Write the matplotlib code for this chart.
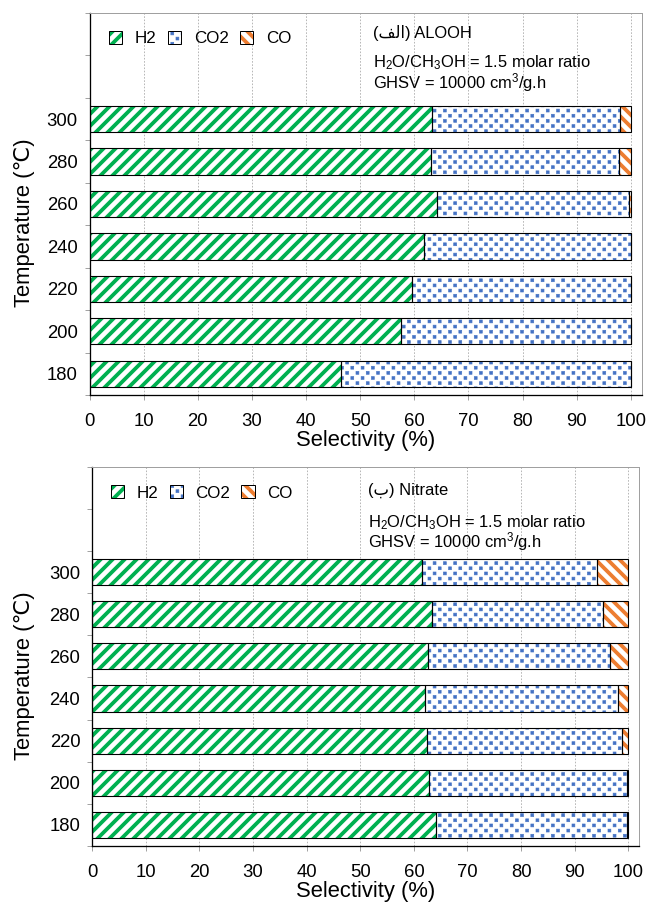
import numpy as np
import matplotlib
matplotlib.use('Agg')
import matplotlib.pyplot as plt
import matplotlib.hatch as mhatch
from matplotlib.path import Path
from matplotlib.patches import Patch
from matplotlib.legend_handler import HandlerTuple

# ---------------- data ----------------
temps = [180, 200, 220, 240, 260, 280, 300]
species = ['H2', 'CO2', 'CO']

alooh_h2 = [46.5, 57.5, 59.6, 61.8, 64.1, 63.0, 63.3]
alooh_co2 = [53.5, 42.5, 40.4, 38.2, 35.6, 34.8, 34.7]
alooh_co = [0.0, 0.0, 0.0, 0.0, 0.3, 2.2, 2.0]

nitrate_h2 = [64.2, 62.8, 62.5, 62.1, 62.7, 63.3, 61.5]
nitrate_co2 = [35.6, 37.0, 36.4, 35.9, 33.9, 31.9, 32.6]
nitrate_co = [0.2, 0.2, 1.1, 2.0, 3.4, 4.8, 5.9]

panel_titles = ['(\uFED2\uFEDF\uFE8D) ALOOH', '(\u0628) Nitrate']
cond_line1 = 'H$_2$O/CH$_3$OH = 1.5 molar ratio'
cond_line2 = 'GHSV = 10000 cm$^3$/g.h'
xticks = list(range(0, 101, 10))

# ---------------- style ----------------
colors = ['#00B050', '#4472C4', '#ED7D31']
hatches = ['//', '..', '\\\\']
hatch_lws = [3.8, 0.6, 3.8]

plt.rcParams['font.family'] = ['Liberation Sans', 'DejaVu Sans']
plt.rcParams['mathtext.fontset'] = 'custom'
plt.rcParams['mathtext.rm'] = 'Liberation Sans'
plt.rcParams['mathtext.it'] = 'Liberation Sans:italic'
plt.rcParams['mathtext.bf'] = 'Liberation Sans:bold'


class SquareDots(mhatch.HatchPatternBase):
    """Staggered small filled squares (replaces the '.' hatch)."""

    def __init__(self, hatch, density):
        k = hatch.count('.')
        self.nrows = 7 * k
        self.ncols = max(self.nrows // 2, 1)
        self.side = 0.040
        self.num_vertices = self.nrows * self.ncols * 5 if k else 0

    def set_vertices_and_codes(self, vertices, codes):
        sq = (np.array([[0, 0], [1, 0], [1, 1], [0, 1], [0, 0]], float) - 0.5) * self.side
        sc = [Path.MOVETO, Path.LINETO, Path.LINETO, Path.LINETO, Path.CLOSEPOLY]
        idx = 0
        for r in range(self.nrows):
            y = (r + 0.5) / self.nrows
            for c in range(self.ncols):
                x = (c + 0.25 + 0.5 * (r % 2)) / self.ncols
                vertices[idx:idx + 5] = sq + [x, y]
                codes[idx:idx + 5] = sc
                idx += 5


mhatch._hatch_types = [SquareDots if t is mhatch.SmallFilledCircles else t
                       for t in mhatch._hatch_types]


def set_hlw(p, lw):
    if hasattr(p, 'set_hatch_linewidth'):
        p.set_hatch_linewidth(lw)


DPI = 72
fig = plt.figure(figsize=(648 / DPI, 904 / DPI), dpi=DPI)

axes_rects = [
    [89.5 / 648, (904 - 395) / 904, 552.2 / 648, 382 / 904],
    [92.3 / 648, (904 - 846) / 904, 546.7 / 648, 379.3 / 904],
]
datasets = [
    [alooh_h2, alooh_co2, alooh_co],
    [nitrate_h2, nitrate_co2, nitrate_co],
]
legend_pos = [(0.0353, 0.933), (0.0337, 0.9307)]
text_pos = [
    (0.5134, [0.9346, 0.8586, 0.8037]),
    (0.505, [0.9254, 0.841, 0.788]),
]
ylabel_x = [-0.0987, -0.1048]

ypos = np.arange(len(temps))
bar_h = 0.62

for k in range(2):
    ax = fig.add_axes(axes_rects[k])
    data = datasets[k]
    left = np.zeros(len(temps))
    for i, vals in enumerate(data):
        vals = np.asarray(vals, dtype=float)
        hb = ax.barh(ypos, vals, height=bar_h, left=left, color='white',
                     edgecolor=colors[i], linewidth=0, hatch=hatches[i], zorder=2)
        for p in hb:
            set_hlw(p, hatch_lws[i])
        ax.barh(ypos, vals, height=bar_h, left=left, fill=False,
                edgecolor='black', linewidth=1.1, zorder=3)
        left = left + vals

    ax.set_xlim(0, 102)
    ax.set_ylim(-0.5, 8.5)
    ax.set_xticks(xticks)
    ax.set_yticks(ypos)
    ax.set_yticklabels([str(t) for t in temps])
    ax.set_yticks(np.arange(-0.5, 9.0, 1.0), minor=True)
    ax.tick_params(axis='x', which='major', direction='out', length=5,
                   color='#8c8c8c', width=0.8, labelsize=18.5, pad=13)
    ax.tick_params(axis='y', which='major', length=0, labelsize=18.5, pad=12)
    ax.tick_params(axis='y', which='minor', direction='out', length=5,
                   color='#8c8c8c', width=0.8)
    ax.grid(axis='x', which='major', color='#a6a6a6', linestyle=(0, (2, 2)),
            linewidth=0.8, zorder=0)
    ax.set_axisbelow(True)
    for s in ['left', 'bottom']:
        ax.spines[s].set_color('black')
        ax.spines[s].set_linewidth(1.3)
    for s in ['top', 'right']:
        ax.spines[s].set_color('#a0a0a0')
        ax.spines[s].set_linewidth(1.0)

    ax.set_xlabel('Selectivity (%)', fontsize=22, labelpad=0)
    ax.set_ylabel('Temperature (\u2103)', fontsize=22)
    ax.yaxis.set_label_coords(ylabel_x[k], 0.45)

    handles = []
    for i in range(3):
        hp = Patch(facecolor='white', edgecolor=colors[i], linewidth=0,
                   hatch=hatches[i])
        set_hlw(hp, hatch_lws[i])
        op = Patch(facecolor='none', edgecolor='black', linewidth=1.0)
        handles.append((hp, op))
    leg = ax.legend(handles, species, handler_map={tuple: HandlerTuple(ndivide=1)},
                    loc='center left', bbox_to_anchor=legend_pos[k], ncol=3,
                    frameon=False, fontsize=17, borderpad=0, borderaxespad=0,
                    handlelength=0.78, handleheight=0.78, handletextpad=0.75,
                    columnspacing=0.65)
    for i, lh in enumerate(leg.legend_handles):
        set_hlw(lh, hatch_lws[i])

    tx, tys = text_pos[k]
    for txt, ty in zip([panel_titles[k], cond_line1, cond_line2], tys):
        ax.text(tx, ty, txt, transform=ax.transAxes, fontsize=16.5,
                va='baseline', ha='left')

fig.savefig('out.png', dpi=DPI)
